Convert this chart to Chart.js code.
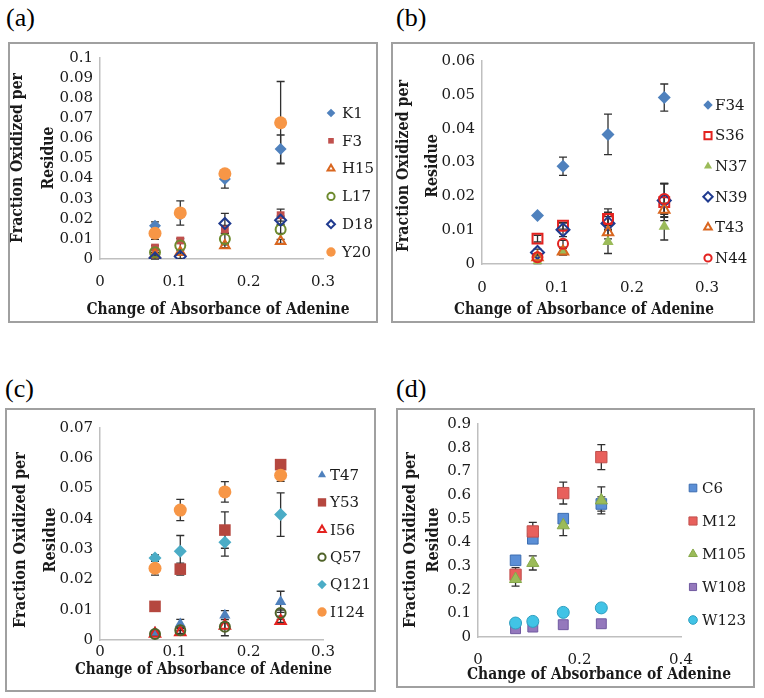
<!DOCTYPE html>
<html><head><meta charset="utf-8">
<script src="https://cdn.jsdelivr.net/npm/chart.js@4.4.1/dist/chart.umd.min.js"></script>
<style>
html,body{margin:0;padding:0;background:#fff;width:764px;height:698px;overflow:hidden;position:relative;}
.box{position:absolute;}
.box canvas{position:absolute;left:0;top:0;}
.frame{position:absolute;left:0;top:0;right:0;bottom:0;border:2px solid #a0a0a0;box-sizing:border-box;pointer-events:none;}
.lab{position:absolute;font-size:26px;line-height:1;color:#000;font-family:"Liberation Serif",serif;}
</style></head><body>
<div class="lab" style="left:6px;top:5px;">(a)</div>
<div class="lab" style="left:396px;top:5px;">(b)</div>
<div class="lab" style="left:5px;top:376px;">(c)</div>
<div class="lab" style="left:396px;top:376px;">(d)</div>
<div class="box" style="left:8px;top:42px;width:370px;height:281px;"><canvas id="ca" width="370" height="281"></canvas><div class="frame"></div></div>
<div class="box" style="left:391px;top:42px;width:364px;height:281px;"><canvas id="cb" width="364" height="281"></canvas><div class="frame"></div></div>
<div class="box" style="left:5px;top:408px;width:371px;height:284px;"><canvas id="cc" width="371" height="284"></canvas><div class="frame"></div></div>
<div class="box" style="left:396px;top:408px;width:359px;height:280px;"><canvas id="cd" width="359" height="280"></canvas><div class="frame"></div></div>
<script>
// ---------- shared data ----------
const xValues = [0.074, 0.108, 0.168, 0.243];
const xTitle = 'Change of Absorbance of Adenine';
const yTitle = ['Fraction Oxidized per', 'Residue'];
const xTicks03 = ['0', '0.1', '0.2', '0.3'];
const xTicks04 = ['0', '0.2', '0.4'];

// ---------- panel (a) ----------
const aLabels = ['K1', 'F3', 'H15', 'L17', 'D18', 'Y20'];
const aK1  = [0.0165, 0.022, 0.0398, 0.0547];
const aF3  = [0.0057, 0.0092, 0.0147, 0.0218];
const aH15 = [0.0023, 0.0034, 0.0067, 0.0088];
const aL17 = [0.0034, 0.0067, 0.0100, 0.0147];
const aD18 = [0.0005, 0.0013, 0.0177, 0.0193];
const aY20 = [0.0128, 0.0229, 0.0424, 0.0678];
const aK1Err  = [0.002, 0, 0.0045, 0.007];
const aF3Err  = [0.001, 0.001, 0.002, 0.003];
const aH15Err = [0.001, 0.001, 0.001, 0.001];
const aL17Err = [0.001, 0.002, 0.003, 0.002];
const aD18Err = [0.001, 0.001, 0.005, 0.002];
const aY20Err = [0.003, 0.006, 0.002, 0.0205];
const aYTicks = ['0', '0.01', '0.02', '0.03', '0.04', '0.05', '0.06', '0.07', '0.08', '0.09', '0.1'];

// ---------- panel (b) ----------
const bLabels = ['F34', 'S36', 'N37', 'N39', 'T43', 'N44'];
const bF34 = [0.0143, 0.0289, 0.0383, 0.0492];
const bS36 = [0.0075, 0.0113, 0.0133, 0.0183];
const bN37 = [0.0006, 0.0037, 0.0066, 0.0111];
const bN39 = [0.0034, 0.0101, 0.0120, 0.0188];
const bT43 = [0.0020, 0.0037, 0.0094, 0.0160];
const bN44 = [0.0020, 0.0060, 0.0133, 0.0192];
const bF34Err = [0, 0.0027, 0.006, 0.004];
const bS36Err = [0.001, 0.001, 0.003, 0.0055];
const bN37Err = [0.0005, 0.001, 0.0035, 0.004];
const bN39Err = [0.001, 0.002, 0.002, 0.005];
const bT43Err = [0.001, 0.001, 0.002, 0.002];
const bN44Err = [0.001, 0.001, 0.002, 0.0045];
const bYTicks = ['0', '0.01', '0.02', '0.03', '0.04', '0.05', '0.06'];

// ---------- panel (c) ----------
const cLabels = ['T47', 'Y53', 'I56', 'Q57', 'Q121', 'I124'];
const cT47  = [0.0025, 0.0053, 0.0082, 0.0126];
const cY53  = [0.0111, 0.0234, 0.0363, 0.0579];
const cI56  = [0.0021, 0.0026, 0.0047, 0.0063];
const cQ57  = [0.0020, 0.0032, 0.0044, 0.0089];
const cQ121 = [0.0271, 0.0293, 0.0323, 0.0414];
const cI124 = [0.0237, 0.0429, 0.0489, 0.0544];
const cT47Err  = [0.0005, 0.0015, 0.0015, 0.0035];
const cY53Err  = [0, 0.002, 0.006, 0.001];
const cI56Err  = [0.0005, 0.0005, 0.001, 0.0005];
const cQ57Err  = [0.0005, 0.001, 0.003, 0.001];
const cQ121Err = [0.001, 0.0052, 0.0046, 0.0072];
const cI124Err = [0.0023, 0.0035, 0.0034, 0.002];
const cYTicks = ['0', '0.01', '0.02', '0.03', '0.04', '0.05', '0.06', '0.07'];

// ---------- panel (d) ----------
const dLabels = ['C6', 'M12', 'M105', 'W108', 'W123'];
const dC6   = [0.324, 0.415, 0.500, 0.562];
const dM12  = [0.263, 0.446, 0.608, 0.760];
const dM105 = [0.245, 0.313, 0.472, 0.577];
const dW108 = [0.035, 0.042, 0.052, 0.056];
const dW123 = [0.059, 0.066, 0.104, 0.123];
const dC6Err   = [0.01, 0.01, 0.01, 0.03];
const dM12Err  = [0.03, 0.038, 0.046, 0.053];
const dM105Err = [0.03, 0.03, 0.044, 0.057];
const dW108Err = [0.005, 0.005, 0.005, 0.005];
const dW123Err = [0.01, 0.012, 0.015, 0.015];
const dYTicks = ['0', '0.1', '0.2', '0.3', '0.4', '0.5', '0.6', '0.7', '0.8', '0.9'];

// ---------- helpers ----------
const FONT = '"DejaVu Serif", serif';
const TXT = '#1a1a1a';
const AXIS = '#bfbfbf';
const NONE = 'rgba(0,0,0,0)';

function pts(vals) { return vals.map((v, i) => ({x: xValues[i], y: v})); }
function ser(label, vals, errs, style, fill, stroke, r, bw) {
  return {label, data: pts(vals), errors: errs, pointStyle: style,
    backgroundColor: fill, borderColor: stroke, pointBackgroundColor: fill,
    pointBorderColor: stroke, pointRadius: r, pointHoverRadius: r,
    pointBorderWidth: bw, showLine: false};
}

const errorBars = {
  id: 'errorBars',
  beforeDatasetsDraw(chart) {
    const {ctx, scales: {x, y}} = chart;
    ctx.save();
    ctx.strokeStyle = '#303030';
    ctx.lineWidth = 1.3;
    chart.data.datasets.forEach(ds => {
      (ds.errors || []).forEach((e, i) => {
        if (!e) return;
        const p = ds.data[i];
        const px = x.getPixelForValue(p.x);
        const yt = y.getPixelForValue(p.y + e);
        const yb = y.getPixelForValue(Math.max(p.y - e, 0));
        ctx.beginPath();
        ctx.moveTo(px, yt); ctx.lineTo(px, yb);
        ctx.moveTo(px - 4, yt); ctx.lineTo(px + 4, yt);
        ctx.moveTo(px - 4, yb); ctx.lineTo(px + 4, yb);
        ctx.stroke();
      });
    });
    ctx.restore();
  }
};

// squeezed text: draws text with its natural height but horizontally scaled to a target width
function squeezedText(ctx, text, x, y, rot, scaleX) {
  ctx.save();
  ctx.translate(x, y);
  ctx.rotate(rot);
  ctx.scale(scaleX, 1);
  ctx.fillText(text, 0, 0);
  ctx.restore();
}

const axisTitles = {
  id: 'axisTitles',
  afterDraw(chart, args, o) {
    const ctx = chart.ctx;
    ctx.save();
    ctx.fillStyle = TXT;
    ctx.font = 'bold 17px ' + FONT;
    ctx.textAlign = 'center';
    // x title
    ctx.textBaseline = 'middle';
    const fx = o.xw / ctx.measureText(xTitle).width;
    squeezedText(ctx, xTitle, o.xx, o.xy, 0, fx);
    // y title (two lines, rotated)
    ctx.textBaseline = 'alphabetic';
    const fy = o.yw / ctx.measureText(yTitle[0]).width;
    squeezedText(ctx, yTitle[0], o.yb1, o.yc, -Math.PI / 2, fy);
    squeezedText(ctx, yTitle[1], o.yb2, o.yc, -Math.PI / 2, fy);
    ctx.restore();
  }
};

const sideLegend = {
  id: 'sideLegend',
  afterDraw(chart, args, o) {
    const ctx = chart.ctx;
    ctx.save();
    chart.data.datasets.forEach((ds, i) => {
      const cy = o.y + i * o.dy;
      ctx.fillStyle = ds.pointBackgroundColor;
      ctx.strokeStyle = ds.pointBorderColor;
      ctx.lineWidth = ds.pointBorderWidth;
      Chart.helpers.drawPoint(ctx, {pointStyle: ds.pointStyle, radius: ds.pointRadius * 0.72,
        rotation: 0, borderWidth: ds.pointBorderWidth}, o.x, cy);
      ctx.fillStyle = TXT;
      ctx.font = '15px ' + FONT;
      ctx.textAlign = 'left';
      ctx.textBaseline = 'middle';
      ctx.fillText(ds.label, o.tx, cy + 1);
    });
    ctx.restore();
  }
};

function makeChart(id, P) {
  const ds = P.datasets.map((d, i) => Object.assign(d, {order: -i}));
  return new Chart(document.getElementById(id), {
    type: 'scatter',
    data: {datasets: ds},
    plugins: [errorBars, sideLegend, axisTitles],
    options: {
      responsive: false, animation: false, events: [],
      layout: {padding: {left: 0, top: P.top, right: P.W - P.right, bottom: 0}},
      plugins: {legend: {display: false}, tooltip: {enabled: false},
        sideLegend: {x: P.lx, tx: P.ltx, y: P.ly, dy: P.ldy},
        axisTitles: P.titles},
      scales: {
        x: {type: 'linear', min: 0, max: P.xMax,
          ticks: {stepSize: P.xStep, autoSkip: false, maxRotation: 0, padding: P.xTickPad,
            color: TXT, font: {family: FONT, size: 15},
            callback: (v, i) => P.xTicks[i]},
          grid: {display: false, drawTicks: false},
          border: {display: true, color: AXIS, width: 1.5},
          title: {display: false},
          afterFit: s => { s.height = P.H - P.bottom; }},
        y: {type: 'linear', min: 0, max: P.yMax,
          ticks: {stepSize: P.yStep, autoSkip: false, padding: 7, color: TXT,
            font: {family: FONT, size: 15},
            callback: (v, i) => P.yTicks[i]},
          grid: {display: false, drawTicks: false},
          border: {display: true, color: AXIS, width: 1.5},
          title: {display: false},
          afterFit: s => { s.width = P.left; }}
      }
    }
  });
}

const BLUE = '#4F81BD', RED = '#C0504D', GREEN = '#9BBB59', PURPLE = '#8064A2',
      AQUA = '#4BACC6', ORANGE = '#F79646', NAVY = '#1F3A8F', BRORANGE = '#D9661F',
      OLIVE = '#6E8B2E', BRRED = '#E3221F';

makeChart('ca', {W: 370, H: 281, left: 92, right: 315, top: 13, bottom: 217,
  xMax: 0.3, xStep: 0.1, xTicks: xTicks03, yMax: 0.1, yStep: 0.01, yTicks: aYTicks,
  xTickPad: 14,
  titles: {xx: 210, xy: 268, xw: 263, yb1: 14, yb2: 45, yc: 116, yw: 170},
  lx: 323, ltx: 334, ly: 71, ldy: 27.8,
  datasets: [
    ser(aLabels[0], aK1, aK1Err, 'rectRot', BLUE, BLUE, 6, 0),
    ser(aLabels[1], aF3, aF3Err, 'rect', RED, RED, 5.5, 0),
    ser(aLabels[2], aH15, aH15Err, 'triangle', NONE, BRORANGE, 5.5, 2),
    ser(aLabels[3], aL17, aL17Err, 'circle', NONE, OLIVE, 5, 2),
    ser(aLabels[4], aD18, aD18Err, 'rectRot', NONE, NAVY, 5.5, 2),
    ser(aLabels[5], aY20, aY20Err, 'circle', ORANGE, ORANGE, 6.5, 0)
  ]});

makeChart('cb', {W: 364, H: 281, left: 91, right: 316, top: 19, bottom: 222,
  xMax: 0.3, xStep: 0.1, xTicks: xTicks03, yMax: 0.06, yStep: 0.01, yTicks: bYTicks,
  xTickPad: 15,
  titles: {xx: 193, xy: 268, xw: 260, yb1: 17, yb2: 46, yc: 124, yw: 172},
  lx: 317, ltx: 324, ly: 63, ldy: 30.6,
  datasets: [
    ser(bLabels[0], bF34, bF34Err, 'rectRot', BLUE, BLUE, 6.5, 0),
    ser(bLabels[1], bS36, bS36Err, 'rect', NONE, BRRED, 7, 2),
    ser(bLabels[2], bN37, bN37Err, 'triangle', GREEN, GREEN, 6.5, 0),
    ser(bLabels[3], bN39, bN39Err, 'rectRot', NONE, NAVY, 6.5, 2),
    ser(bLabels[4], bT43, bT43Err, 'triangle', NONE, BRORANGE, 6, 2),
    ser(bLabels[5], bN44, bN44Err, 'circle', NONE, BRRED, 5, 2)
  ]});

makeChart('cc', {W: 371, H: 284, left: 95, right: 318, top: 20, bottom: 232,
  xMax: 0.3, xStep: 0.1, xTicks: xTicks03, yMax: 0.07, yStep: 0.01, yTicks: cYTicks,
  xTickPad: 3,
  titles: {xx: 198.5, xy: 262, xw: 257, yb1: 20, yb2: 50, yc: 132, yw: 176},
  lx: 317, ltx: 325, ly: 67, ldy: 27.4,
  datasets: [
    ser(cLabels[0], cT47, cT47Err, 'triangle', BLUE, BLUE, 6.5, 0),
    ser(cLabels[1], cY53, cY53Err, 'rect', '#B5473F', '#B5473F', 8.2, 0),
    ser(cLabels[2], cI56, cI56Err, 'triangle', NONE, BRRED, 6, 2),
    ser(cLabels[3], cQ57, cQ57Err, 'circle', NONE, '#4F6228', 5, 2),
    ser(cLabels[4], cQ121, cQ121Err, 'rectRot', AQUA, AQUA, 6.5, 0),
    ser(cLabels[5], cI124, cI124Err, 'circle', ORANGE, ORANGE, 6.5, 0)
  ]});

makeChart('cd', {W: 359, H: 280, left: 82, right: 285, top: 16, bottom: 229,
  xMax: 0.4, xStep: 0.2, xTicks: xTicks04, yMax: 0.9, yStep: 0.1, yTicks: dYTicks,
  xTickPad: 14,
  titles: {xx: 203, xy: 267, xw: 264, yb1: 19, yb2: 42, yc: 132, yw: 176},
  lx: 297, ltx: 306, ly: 80, ldy: 33,
  datasets: [
    ser(dLabels[0], dC6, dC6Err, 'rect', '#5B8FD6', '#3C6DB0', 7.5, 1),
    ser(dLabels[1], dM12, dM12Err, 'rect', '#E8605C', '#C0504D', 8, 1),
    ser(dLabels[2], dM105, dM105Err, 'triangle', GREEN, '#86A84A', 7, 1),
    ser(dLabels[3], dW108, dW108Err, 'rect', '#9478BC', '#7059A0', 7, 1),
    ser(dLabels[4], dW123, dW123Err, 'circle', '#41C3E6', '#2E9FC0', 6, 1)
  ]});
</script>
</body></html>
